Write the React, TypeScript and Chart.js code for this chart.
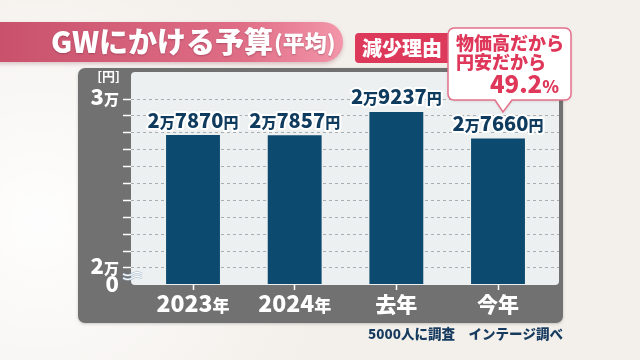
import React, { useEffect, useRef } from 'react';
import { Chart, registerables } from 'chart.js';

Chart.register(...registerables);

const FONT = '"Noto Sans CJK JP", "Noto Sans", sans-serif';
const W8 = '900';

// ---- data ----
const categories = ['2023年', '2024年', '去年', '今年'];
const values = [27870, 27857, 29237, 27660];
const valueLabels = ['2万7870円', '2万7857円', '2万9237円', '2万7660円'];
const yGridValues = [20000, 21000, 22000, 23000, 24000, 25000, 26000, 27000, 28000, 29000, 30000];
const yLabeledValues = [20000, 30000];
const yLabelTexts = ['2万', '3万'];
const yZeroLabel = '0';
const yUnit = '[円]';
const titleMain = 'GWにかける予算';
const titleSub = '(平均)';
const reasonTag = '減少理由';
const reasonLines = ['物価高だから', '円安だから'];
const reasonShare = '49.2%';
const sourceNote = '5000人に調査　インテージ調べ';

// broken-axis: value shown as "0"
const Y_BREAK = 19050;
const Y_MAX = 31600;

const NAVY = '#0c4a6f';
const TEXT_NAVY = '#0f3b5e';
const RED = '#df375a';

function rr(ctx: CanvasRenderingContext2D, x: number, y: number, w: number, h: number, r: number) {
  ctx.beginPath();
  ctx.moveTo(x + r, y);
  ctx.lineTo(x + w - r, y);
  ctx.arcTo(x + w, y, x + w, y + r, r);
  ctx.lineTo(x + w, y + h - r);
  ctx.arcTo(x + w, y + h, x + w - r, y + h, r);
  ctx.lineTo(x + r, y + h);
  ctx.arcTo(x, y + h, x, y + h - r, r);
  ctx.lineTo(x, y + r);
  ctx.arcTo(x, y, x + r, y, r);
  ctx.closePath();
}

type Run = { t: string; big: boolean };
function splitRuns(text: string, bigTest: (ch: string) => boolean): Run[] {
  const runs: Run[] = [];
  for (const ch of text) {
    const b = bigTest(ch);
    if (runs.length && runs[runs.length - 1].big === b) runs[runs.length - 1].t += ch;
    else runs.push({ t: ch, big: b });
  }
  return runs;
}

function drawRich(
  ctx: CanvasRenderingContext2D,
  text: string,
  x: number,
  y: number,
  big: number,
  small: number,
  align: 'left' | 'center' | 'right',
  color: string,
  stroke?: string,
  bigTest: (ch: string) => boolean = (ch) => /[0-9.]/.test(ch)
) {
  const runs = splitRuns(text, bigTest);
  ctx.save();
  ctx.textBaseline = 'alphabetic';
  ctx.textAlign = 'left';
  let total = 0;
  const widths = runs.map((r) => {
    ctx.font = `${W8} ${r.big ? big : small}px ${FONT}`;
    const w = ctx.measureText(r.t).width;
    total += w;
    return w;
  });
  let cx = align === 'left' ? x : align === 'center' ? x - total / 2 : x - total;
  if (stroke) {
    let sx = cx;
    ctx.strokeStyle = stroke;
    ctx.lineWidth = 4;
    ctx.lineJoin = 'round';
    runs.forEach((r, i) => {
      ctx.font = `${W8} ${r.big ? big : small}px ${FONT}`;
      ctx.strokeText(r.t, sx, y);
      sx += widths[i];
    });
  }
  ctx.fillStyle = color;
  runs.forEach((r, i) => {
    ctx.font = `${W8} ${r.big ? big : small}px ${FONT}`;
    ctx.fillText(r.t, cx, y);
    cx += widths[i];
  });
  ctx.restore();
}

const backgroundPlugin = {
  id: 'bgDecor',
  beforeDraw(chart: any) {
    const ctx: CanvasRenderingContext2D = chart.ctx;
    const W = chart.width;
    const H = chart.height;
    ctx.save();
    ctx.fillStyle = '#f3efea';
    ctx.fillRect(0, 0, W, H);
    const rg = ctx.createRadialGradient(40, 220, 10, 40, 220, 300);
    rg.addColorStop(0, 'rgba(255,255,255,0.9)');
    rg.addColorStop(1, 'rgba(255,255,255,0)');
    ctx.fillStyle = rg;
    ctx.fillRect(0, 0, W, H);

    // title pill
    ctx.save();
    ctx.shadowColor = 'rgba(120,40,60,0.25)';
    ctx.shadowBlur = 4;
    ctx.shadowOffsetY = 2;
    ctx.beginPath();
    ctx.moveTo(-10, 22);
    ctx.lineTo(323, 22);
    ctx.arc(323, 42, 20, -Math.PI / 2, Math.PI / 2);
    ctx.lineTo(-10, 62);
    ctx.closePath();
    const lg = ctx.createLinearGradient(0, 0, 343, 0);
    lg.addColorStop(0, '#c9516c');
    lg.addColorStop(0.7, '#df6d86');
    lg.addColorStop(1, '#f396aa');
    ctx.fillStyle = lg;
    ctx.fill();
    ctx.restore();

    ctx.save();
    ctx.shadowColor = 'rgba(90,20,40,0.35)';
    ctx.shadowBlur = 2;
    ctx.shadowOffsetY = 1;
    ctx.fillStyle = '#ffffff';
    ctx.textBaseline = 'middle';
    ctx.textAlign = 'left';
    ctx.font = `${W8} 29px ${FONT}`;
    ctx.fillText(titleMain, 51, 42);
    const tw = ctx.measureText(titleMain).width;
    ctx.font = `${W8} 22px ${FONT}`;
    ctx.fillText(titleSub, 51 + tw + 1, 43);
    ctx.restore();

    // reason tag
    rr(ctx, 355, 33, 97, 30, 4);
    ctx.fillStyle = '#dd3a5b';
    ctx.fill();
    ctx.fillStyle = '#ffffff';
    ctx.font = `${W8} 20px ${FONT}`;
    ctx.textAlign = 'center';
    ctx.textBaseline = 'middle';
    ctx.fillText(reasonTag, 402, 48.5);

    // grey panel
    ctx.save();
    ctx.shadowColor = 'rgba(0,0,0,0.2)';
    ctx.shadowBlur = 3;
    ctx.shadowOffsetY = 1;
    rr(ctx, 78, 68, 485, 255, 7);
    ctx.fillStyle = '#717171';
    ctx.fill();
    ctx.restore();

    // inner plot rect
    const a = chart.chartArea;
    rr(ctx, a.left, a.top, a.right - a.left, a.bottom - a.top + 1, 4);
    ctx.fillStyle = '#edf0f1';
    ctx.fill();
    ctx.restore();
  },
  afterDatasetsDraw(chart: any) {
    const ctx: CanvasRenderingContext2D = chart.ctx;
    const meta = chart.getDatasetMeta(0);
    const xs = chart.scales.x;
    const ys = chart.scales.y;

    // value labels
    meta.data.forEach((el: any, i: number) => {
      drawRich(ctx, valueLabels[i], el.x, el.y - 7.5, 20, 15, 'center', TEXT_NAVY, '#ffffff');
    });

    // x labels
    categories.forEach((c, i) => {
      const hasDigit = /[0-9]/.test(c);
      drawRich(ctx, c, xs.getPixelForValue(i), 312, 23, hasDigit ? 17 : 21, 'center', '#ffffff', undefined,
        hasDigit ? (ch) => /[0-9]/.test(ch) : () => false);
    });

    // y labels
    yLabeledValues.forEach((v, i) => {
      drawRich(ctx, yLabelTexts[i], 119, ys.getPixelForValue(v) + 6, 22, 15, 'right', '#ffffff');
    });
    drawRich(ctx, yZeroLabel, 119, ys.getPixelForValue(Y_BREAK) + 8, 22, 15, 'right', '#ffffff');
    ctx.save();
    ctx.fillStyle = '#ffffff';
    ctx.font = `bold 13px ${FONT}`;
    ctx.textAlign = 'right';
    ctx.textBaseline = 'middle';
    ctx.fillText(yUnit, 120, 76);
    ctx.restore();

    // axis break squiggles
    const yb = (ys.getPixelForValue(Y_BREAK) + ys.getPixelForValue(20000)) / 2;
    ctx.save();
    [yb - 2, yb + 2].forEach((yy) => {
      ctx.beginPath();
      for (let x = 123; x <= 142; x += 0.5) {
        const yv = yy + 1.4 * Math.sin(((x - 123) / 19) * Math.PI * 2);
        if (x === 123) ctx.moveTo(x, yv);
        else ctx.lineTo(x, yv);
      }
      ctx.strokeStyle = '#9fb8cc';
      ctx.lineWidth = 2.4;
      ctx.stroke();
      ctx.strokeStyle = '#ffffff';
      ctx.lineWidth = 1.2;
      ctx.stroke();
    });
    ctx.restore();

    // callout
    ctx.save();
    ctx.shadowColor = 'rgba(0,0,0,0.15)';
    ctx.shadowBlur = 3;
    ctx.shadowOffsetY = 1;
    const L = 448, T = 28, R = 571, B = 100, r = 6;
    ctx.beginPath();
    ctx.moveTo(L + r, T);
    ctx.lineTo(R - r, T);
    ctx.arcTo(R, T, R, T + r, r);
    ctx.lineTo(R, B - r);
    ctx.arcTo(R, B, R - r, B, r);
    ctx.lineTo(512, B);
    ctx.lineTo(503, 112);
    ctx.lineTo(495, B);
    ctx.lineTo(L + r, B);
    ctx.arcTo(L, B, L, B - r, r);
    ctx.lineTo(L, T + r);
    ctx.arcTo(L, T, L + r, T, r);
    ctx.closePath();
    ctx.fillStyle = '#ffffff';
    ctx.fill();
    ctx.restore();
    ctx.save();
    ctx.strokeStyle = '#e5708a';
    ctx.lineWidth = 1.5;
    ctx.stroke();
    ctx.fillStyle = RED;
    ctx.font = `${W8} 18px ${FONT}`;
    ctx.textAlign = 'left';
    ctx.textBaseline = 'middle';
    ctx.fillText(reasonLines[0], 456, 43);
    ctx.fillText(reasonLines[1], 456, 62);
    ctx.restore();
    drawRich(ctx, reasonShare, 559, 93, 24, 17, 'right', RED);

    // source
    ctx.save();
    ctx.fillStyle = '#163b5f';
    ctx.font = `${W8} 13.5px ${FONT}`;
    ctx.textAlign = 'right';
    ctx.textBaseline = 'middle';
    ctx.fillText(sourceNote, 563, 334);
    ctx.restore();
  },
};

export default function App() {
  const ref = useRef<HTMLCanvasElement>(null);
  useEffect(() => {
    if (!ref.current) return;
    const chart = new Chart(ref.current, {
      type: 'bar',
      data: {
        datasets: [
          {
            data: values.map((v, i) => ({ x: i, y: v })),
            backgroundColor: NAVY,
            borderWidth: 0,
            barPercentage: 0.53,
            categoryPercentage: 1,
          },
        ],
      },
      options: {
        animation: false,
        responsive: false,
        devicePixelRatio: 1,
        layout: { padding: { top: 72, right: 81, left: 0, bottom: 0 } },
        plugins: { legend: { display: false }, tooltip: { enabled: false }, title: { display: false } },
        scales: {
          x: {
            type: 'linear',
            offset: false,
            min: -0.61,
            max: 3.6,
            afterBuildTicks: (s: any) => {
              s.ticks = categories.map((_, i) => ({ value: i }));
            },
            afterFit: (s: any) => {
              s.height = 76;
            },
            ticks: { display: false },
            grid: {
              offset: false,
              drawOnChartArea: false,
              drawTicks: true,
              tickLength: 6,
              tickColor: '#ffffff',
              tickWidth: 1.5,
              color: '#ffffff',
            },
            border: { display: false },
          },
          y: {
            type: 'linear',
            min: Y_BREAK,
            max: Y_MAX,
            afterBuildTicks: (s: any) => {
              s.ticks = [Y_BREAK, ...yGridValues].map((v) => ({ value: v }));
            },
            afterFit: (s: any) => {
              s.width = 131;
            },
            ticks: { display: false },
            grid: {
              color: (c: any) => (c.tick && c.tick.value === Y_BREAK ? 'rgba(0,0,0,0)' : '#a9aeb2'),
              tickColor: (c: any) => (c.tick && c.tick.value === Y_BREAK ? 'rgba(0,0,0,0)' : '#ffffff'),
              lineWidth: 1,
              tickWidth: 1.5,
              tickLength: 8,
              tickBorderDash: [],
            },
            border: { display: false, dash: [3, 3] },
          },
        },
      },
      plugins: [backgroundPlugin],
    } as any);
    return () => chart.destroy();
  }, []);
  return (
    <div style={{ position: 'fixed', left: 0, top: 0, width: 640, height: 360 }}>
      <canvas ref={ref} width={640} height={360} style={{ display: 'block', width: 640, height: 360 }} />
    </div>
  );
}
